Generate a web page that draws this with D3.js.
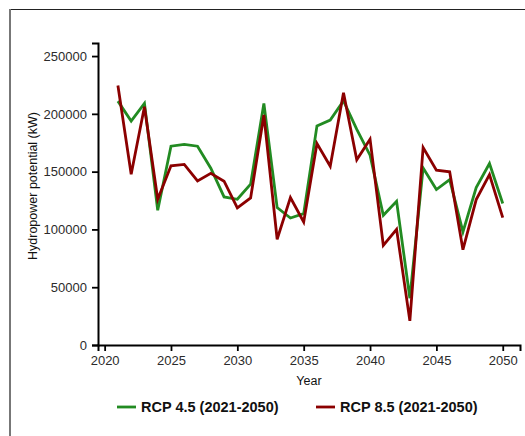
<!DOCTYPE html>
<html><head><meta charset="utf-8">
<script src="https://cdn.jsdelivr.net/npm/d3@7"></script>
<style>
body{margin:0;background:#fff;}
svg{display:block;font-family:"Liberation Sans",Arial,Helvetica,sans-serif;}
</style></head>
<body><svg id="c" width="525" height="436"></svg>
<script>
const years = d3.range(2021, 2051);
const rcp45 = [211000,193700,209000,116600,172000,173500,172000,153000,128100,126100,
               139100,209000,118900,109900,113700,189600,194600,211300,186500,164200,
               112200,124400,40500,153200,134500,143100,97800,136200,157000,122400];
const rcp85 = [224500,147800,206100,126100,155000,156200,142000,148500,141700,118600,
               127200,199000,91500,127500,106400,174300,154700,218200,160200,178100,
               86200,100100,20900,170900,151200,149800,82500,125800,147500,110200];
const yTicks = [0,50000,100000,150000,200000,250000];
const xTicks = [2020,2025,2030,2035,2040,2045,2050];
const seriesNames = ["RCP 4.5 (2021-2050)","RCP 8.5 (2021-2050)"];
const colors = ["#228B22","#8B0000"];

const svg = d3.select("#c");
// outer frame
svg.append("line").attr("x1",9).attr("x2",525).attr("y1",9.5).attr("y2",9.5).attr("stroke","#222").attr("stroke-width",1);
svg.append("line").attr("x1",10).attr("x2",10).attr("y1",9).attr("y2",436).attr("stroke","#777").attr("stroke-width",2);

const x = d3.scaleLinear().domain([2019.5, 2051.3]).range([98, 520]);
const y = d3.scaleLinear().domain([0, 261300]).range([345, 43]);

const gx = svg.append("g").attr("transform","translate(0,345)")
  .call(d3.axisBottom(x).tickValues(xTicks).tickFormat(d3.format("d")).tickSizeOuter(0).tickSize(6).tickPadding(5));
const gy = svg.append("g").attr("transform","translate(98,0)")
  .call(d3.axisLeft(y).tickValues(yTicks).tickFormat(d3.format("d")).tickSizeOuter(0).tickSize(6).tickPadding(5));
[gx,gy].forEach(g=>{
  g.select(".domain").attr("stroke","#000").attr("stroke-width",2);
  g.selectAll(".tick line").attr("stroke","#000").attr("stroke-width",1.8);
  g.selectAll(".tick text").attr("fill","#2b2b2b").style("font-size","13px").style("font-family","Liberation Sans, Arial, sans-serif");
});

// axis titles
svg.append("text").attr("x",309).attr("y",385).attr("text-anchor","middle")
  .style("font-size","12.5px").attr("fill","#111").text("Year");
svg.append("text").attr("transform","translate(37,186) rotate(-90)").attr("text-anchor","middle")
  .style("font-size","12.5px").attr("fill","#111").text("Hydropower potential (kW)");

// lines
const line = d3.line().x((d,i)=>x(years[i])).y(d=>y(d));
[rcp45, rcp85].forEach((s,k)=>{
  svg.append("path").datum(s).attr("d",line).attr("fill","none")
    .attr("stroke",colors[k]).attr("stroke-width",2.8).attr("stroke-linejoin","miter");
});

// legend
const legX = [117, 316];
seriesNames.forEach((n,k)=>{
  svg.append("line").attr("x1",legX[k]).attr("x2",legX[k]+19).attr("y1",407).attr("y2",407)
    .attr("stroke",colors[k]).attr("stroke-width",2.8);
  svg.append("text").attr("x",legX[k]+24).attr("y",412).style("font-size","14.5px").style("font-weight","bold")
    .attr("fill","#111").text(n);
});
</script></body></html>
